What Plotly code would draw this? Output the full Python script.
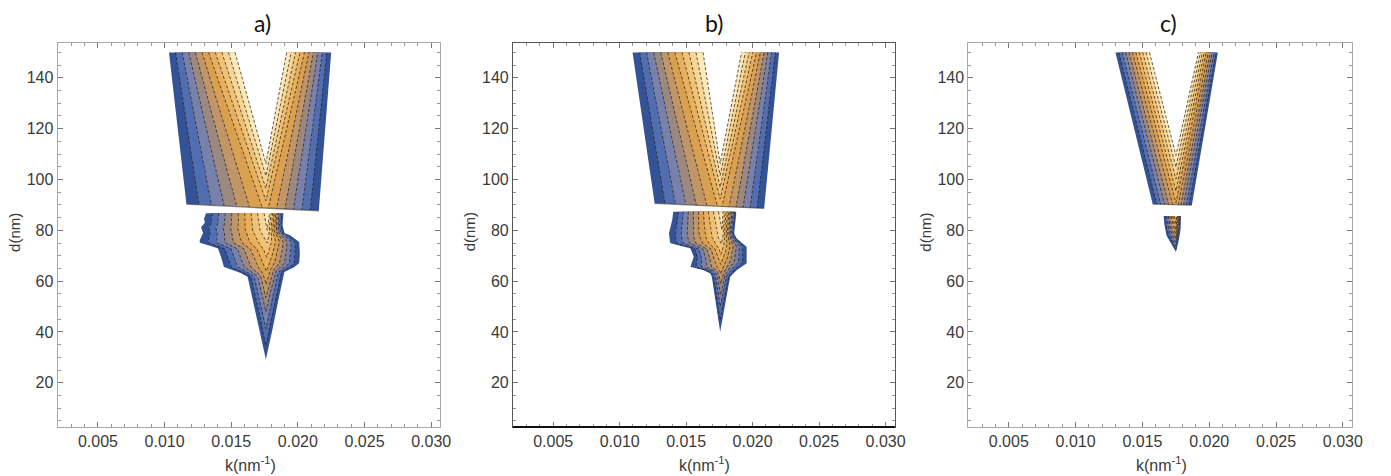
import numpy as np
import plotly.graph_objects as go

W, H = 1391, 476

panel_titles = ["a)", "b)", "c)"]

# colours of the 10 filled contour bands, outermost (lowest level) to innermost
band_colors = [
    "rgb(52,82,150)", "rgb(82,110,178)", "rgb(120,128,172)", "rgb(155,136,128)",
    "rgb(192,150,104)", "rgb(218,160,82)", "rgb(232,176,92)", "rgb(240,194,118)",
    "rgb(246,213,150)", "rgb(251,233,186)",
]

# ---------------- upper, V-shaped region (one value per panel) ----------------
v_top_d = [150.0, 150.0, 150.0]
v_out_left_top_k = [0.01033, 0.01097, 0.01298]
v_out_right_top_k = [0.02250, 0.02199, 0.02065]
v_out_left_bot_k = [0.01164, 0.01263, 0.01577]
v_out_left_bot_d = [90.3, 90.6, 90.3]
v_out_right_bot_k = [0.02157, 0.02087, 0.01870]
v_out_right_bot_d = [87.7, 88.6, 89.9]
v_in_left_top_k = [0.01529, 0.01627, 0.01553]
v_in_right_top_k = [0.01916, 0.01917, 0.01919]
v_tip_k = [0.01760, 0.01756, 0.01751]
v_tip_d = [106.3, 106.3, 109.5]
# highest level still reaching the bottom edge of the V on its centre line
v_bottom_level = [0.62, 0.62, 0.58]

# ---------------- lower region, panel a ----------------
a_low_left_d = [86.7, 84.5, 83.0, 81.2, 78.9, 77.5, 76.1, 75.1, 73.8, 72.9, 69.6, 65.6, 63.2, 61.7, 29.2]
a_low_left_k = [0.01311, 0.01296, 0.01302, 0.01274, 0.01289, 0.01276, 0.01264, 0.01264, 0.01348,
                0.01400, 0.01423, 0.01445, 0.01571, 0.01623, 0.01760]
a_low_right_d = [86.0, 82.0, 78.9, 78.0, 75.4, 71.0, 67.1, 65.5, 63.6, 53.9, 40.9, 29.2]
a_low_right_k = [0.01891, 0.01885, 0.01900, 0.01943, 0.02010, 0.02015, 0.02010, 0.01973, 0.01899,
                 0.01859, 0.01809, 0.01760]
a_ridge_d = [86.7, 80.0, 75.0, 66.0, 56.0, 50.0, 40.0, 29.2]
a_ridge_k = [0.0178, 0.0177, 0.0177, 0.01765, 0.0176, 0.0176, 0.0176, 0.0176]
a_ridge_level = [0.97, 0.90, 0.80, 0.64, 0.45, 0.33, 0.18, 0.02]

# ---------------- lower region, panel b ----------------
b_low_left_d = [87.3, 84.0, 81.4, 78.8, 75.5, 74.9, 72.9, 69.6, 65.6, 64.3, 63.0, 61.7, 40.1]
b_low_left_k = [0.01403, 0.01395, 0.01383, 0.01371, 0.01378, 0.01383, 0.01532, 0.01557, 0.01532,
                0.01632, 0.01682, 0.01693, 0.01756]
b_low_right_d = [86.0, 78.8, 76.8, 73.5, 67.0, 64.3, 61.7, 40.1]
b_low_right_k = [0.01876, 0.01861, 0.01880, 0.01955, 0.01955, 0.01880, 0.01831, 0.01756]
b_ridge_d = [87.3, 78.0, 69.6, 59.0, 50.0, 40.1]
b_ridge_k = [0.0177, 0.0177, 0.0176, 0.0176, 0.01756, 0.01756]
b_ridge_level = [0.97, 0.88, 0.68, 0.40, 0.20, 0.02]

# ---------------- lower region, panel c ----------------
c_low_left_d = [85.6, 82.0, 78.0, 75.0, 71.5]
c_low_left_k = [0.01659, 0.01665, 0.01680, 0.01712, 0.01751]
c_low_right_d = [85.4, 80.0, 76.0, 71.5]
c_low_right_k = [0.01788, 0.01785, 0.01772, 0.01751]
c_ridge_d = [85.6, 80.0, 76.0, 71.5]
c_ridge_k = [0.0175, 0.0175, 0.0175, 0.01751]
c_ridge_level = [0.80, 0.60, 0.35, 0.02]

low_left_d = [a_low_left_d, b_low_left_d, c_low_left_d]
low_left_k = [a_low_left_k, b_low_left_k, c_low_left_k]
low_right_d = [a_low_right_d, b_low_right_d, c_low_right_d]
low_right_k = [a_low_right_k, b_low_right_k, c_low_right_k]
ridge_d = [a_ridge_d, b_ridge_d, c_ridge_d]
ridge_k = [a_ridge_k, b_ridge_k, c_ridge_k]
ridge_level = [a_ridge_level, b_ridge_level, c_ridge_level]

x_ticks = [0.005, 0.010, 0.015, 0.020, 0.025, 0.030]
y_ticks = [20, 40, 60, 80, 100, 120, 140]
x_range = [0.00197, 0.0307]
y_range = [2.6, 153.7]

N = len(band_colors)
LINE_COLOR = "rgba(45,35,25,0.75)"


def line_through(k0, d0, k1, d1, d):
    return k0 + (k1 - k0) * (d - d0) / (d1 - d0)


def interp_desc(dq, d_list, k_list):
    dd = np.array(d_list)[::-1]
    kk = np.array(k_list)[::-1]
    return np.interp(dq, dd, kk)


def level_runs(d, L, R):
    f = R - L
    ok = f > 0
    runs = []
    i = 0
    n = len(d)
    while i < n:
        if ok[i]:
            j = i
            while j + 1 < n and ok[j + 1]:
                j += 1
            dl, Ll, Rl = list(d[i:j + 1]), list(L[i:j + 1]), list(R[i:j + 1])
            tip = False
            if i > 0:
                s = -f[i - 1] / (f[i] - f[i - 1])
                dc = d[i - 1] + s * (d[i] - d[i - 1])
                kc = L[i - 1] + s * (L[i] - L[i - 1])
                dl = [dc] + dl
                Ll = [kc] + Ll
                Rl = [kc] + Rl
                tip = True
            runs.append((np.array(dl), np.array(Ll), np.array(Rl), tip))
            i = j + 1
        else:
            i += 1
    return runs


def add_region(fig, d, level_fn, xa, ya, white_top):
    # fills, lowest level first
    for i in range(N):
        L, R = level_fn(i / N)
        xs, ys = [], []
        for dl, Ll, Rl, tip in level_runs(d, L, R):
            xs += list(Ll) + list(Rl[::-1]) + [None]
            ys += list(dl) + list(dl[::-1]) + [None]
        if xs:
            fig.add_trace(go.Scatter(x=xs, y=ys, fill="toself", fillcolor=band_colors[i],
                                     mode="none", hoverinfo="skip", showlegend=False,
                                     xaxis=xa, yaxis=ya))
    if white_top:
        L, R = level_fn(1.0)
        xs, ys = [], []
        for dl, Ll, Rl, tip in level_runs(d, L, R):
            dl2 = dl.copy()
            dl2[-1] += 0.8  # overshoot the flat top so no seam remains
            xs += list(Ll) + list(Rl[::-1]) + [None]
            ys += list(dl2) + list(dl2[::-1]) + [None]
        if xs:
            fig.add_trace(go.Scatter(x=xs, y=ys, fill="toself", fillcolor="white",
                                     mode="none", hoverinfo="skip", showlegend=False,
                                     xaxis=xa, yaxis=ya))
    # dashed contour lines
    xs, ys = [], []
    top = N + 1 if white_top else N
    for i in range(1, top):
        L, R = level_fn(i / N)
        for dl, Ll, Rl, tip in level_runs(d, L, R):
            if tip:
                xs += list(Ll[::-1]) + list(Rl[1:]) + [None]
                ys += list(dl[::-1]) + list(dl[1:]) + [None]
            else:
                xs += list(Ll[::-1]) + [None] + list(Rl) + [None]
                ys += list(dl[::-1]) + [None] + list(dl) + [None]
    fig.add_trace(go.Scatter(x=xs, y=ys, mode="lines",
                             line=dict(color=LINE_COLOR, width=1, dash="3px,2px"),
                             hoverinfo="skip", showlegend=False, xaxis=xa, yaxis=ya))


fig = go.Figure()

x_px = [(58, 444), (517, 902), (976, 1363)]
y_px = (43, 427)

for p in range(3):
    xa = "x" if p == 0 else f"x{p + 1}"
    ya = "y" if p == 0 else f"y{p + 1}"

    # ---- upper V region: every contour is made of straight legs ----
    dtop = v_top_d[p]
    dmin = min(v_out_left_bot_d[p], v_out_right_bot_d[p])
    d = np.linspace(dmin, dtop, 1800)
    kc, dtip, Mb = v_tip_k[p], v_tip_d[p], v_bottom_level[p]
    outL_bot = line_through(v_out_left_top_k[p], dtop, v_out_left_bot_k[p], v_out_left_bot_d[p], dmin)
    outR_bot = line_through(v_out_right_top_k[p], dtop, v_out_right_bot_k[p], v_out_right_bot_d[p], dmin)

    def v_level(t, p=p, d=d, kc=kc, dtip=dtip, Mb=Mb, dtop=dtop, dmin=dmin,
                outL_bot=outL_bot, outR_bot=outR_bot):
        topL = v_out_left_top_k[p] + (v_in_left_top_k[p] - v_out_left_top_k[p]) * t
        topR = v_out_right_top_k[p] + (v_in_right_top_k[p] - v_out_right_top_k[p]) * t
        if t < Mb:
            s = t / Mb
            botL = outL_bot + (kc - outL_bot) * s
            botR = outR_bot + (kc - outR_bot) * s
            L = line_through(topL, dtop, botL, dmin, d)
            R = line_through(topR, dtop, botR, dmin, d)
        else:
            td = dmin + (t - Mb) / (1 - Mb) * (dtip - dmin)
            if td <= dmin + 1e-6:
                td = dmin + 1e-3
            L = line_through(topL, dtop, kc, td, d)
            R = line_through(topR, dtop, kc, td, d)
        return L, R

    add_region(fig, d, v_level, xa, ya, True)

    # cut of the V bottom along its slanted lower edge
    kBL, dBL = v_out_left_bot_k[p], v_out_left_bot_d[p]
    kBR, dBR = v_out_right_bot_k[p], v_out_right_bot_d[p]
    lo = dmin - 0.5
    fig.add_trace(go.Scatter(
        x=[kBL - 0.002, kBL, kBR, kBR + 0.002, kBR + 0.002, kBL - 0.002],
        y=[dBL, dBL, dBR, dBR, lo, lo],
        fill="toself", fillcolor="white", mode="none", hoverinfo="skip",
        showlegend=False, xaxis=xa, yaxis=ya))
    fig.add_trace(go.Scatter(x=[kBL, kBR], y=[dBL, dBR], mode="lines",
                             line=dict(color="rgba(50,45,50,0.55)", width=1.3),
                             hoverinfo="skip", showlegend=False, xaxis=xa, yaxis=ya))

    # ---- lower region ----
    dlo = min(low_left_d[p][-1], low_right_d[p][-1])
    dhi = max(low_left_d[p][0], low_right_d[p][0])
    d2 = np.linspace(dlo, dhi, 1500)
    L0 = interp_desc(d2, low_left_d[p], low_left_k[p])
    R0 = interp_desc(d2, low_right_d[p], low_right_k[p])
    C = interp_desc(d2, ridge_d[p], ridge_k[p])
    m = np.maximum(interp_desc(d2, ridge_d[p], ridge_level[p]), 1e-3)
    L1 = L0 + (C - L0) / m
    R1 = R0 - (R0 - C) / m

    def low_level(t, L0=L0, L1=L1, R0=R0, R1=R1):
        return L0 + (L1 - L0) * t, R0 + (R1 - R0) * t

    add_region(fig, d2, low_level, xa, ya, False)

layout = dict(width=W, height=H, margin=dict(l=0, r=0, t=0, b=0), autosize=False,
              paper_bgcolor="white", plot_bgcolor="white", showlegend=False)

annotations = []
shapes = []
tick_font = dict(family="Liberation Sans, Arial, sans-serif", size=16, color="#3a3a3a")
for p in range(3):
    sfx = "" if p == 0 else str(p + 1)
    frame_col = "#555" if p == 1 else "#a8a8a8"
    x0, x1 = x_px[p]
    layout["xaxis" + sfx] = dict(
        domain=[x0 / W, x1 / W], range=x_range, anchor="y" + sfx,
        tickmode="array", tickvals=x_ticks, ticktext=[f"{v:.3f}" for v in x_ticks],
        ticks="inside", ticklen=5, tickcolor="#777", tickwidth=1,
        minor=dict(tickmode="linear", tick0=0, dtick=0.001, ticks="inside", ticklen=3, tickcolor="#999"),
        showline=True, linecolor=frame_col, linewidth=1, mirror="allticks",
        showgrid=False, zeroline=False, tickfont=tick_font, fixedrange=True)
    layout["yaxis" + sfx] = dict(
        domain=[1 - y_px[1] / H, 1 - y_px[0] / H], range=y_range, anchor="x" + sfx,
        tickmode="array", tickvals=y_ticks, ticktext=[str(v) for v in y_ticks],
        ticks="inside", ticklen=5, tickcolor="#777", tickwidth=1,
        minor=dict(tickmode="linear", tick0=0, dtick=5, ticks="inside", ticklen=3, tickcolor="#999"),
        showline=True, linecolor=frame_col, linewidth=1, mirror="allticks",
        showgrid=False, zeroline=False, tickfont=tick_font, fixedrange=True)

    cx = (x0 + x1) / 2
    annotations.append(dict(text=panel_titles[p], x=[265, 720, 1178][p] / W, y=1 - 23 / H,
                            xref="paper", yref="paper", showarrow=False, xanchor="center",
                            yanchor="middle", font=dict(family="Lato, sans-serif", size=23, color="#111")))
    annotations.append(dict(text="d(nm)", x=(x0 - 44) / W, y=1 - 232 / H, xref="paper", yref="paper",
                            showarrow=False, textangle=-90, xanchor="center", yanchor="middle",
                            font=dict(family="Liberation Sans, Arial, sans-serif", size=15, color="#3a3a3a")))
    annotations.append(dict(text="k(nm<sup>-1</sup>)", x=(cx + 1) / W, y=1 - 464 / H,
                            xref="paper", yref="paper", showarrow=False, xanchor="center",
                            yanchor="middle",
                            font=dict(family="Liberation Sans, Arial, sans-serif", size=16, color="#3a3a3a")))

# darker bottom frame line in panel b
shapes.append(dict(type="line", xref="x2 domain", yref="y2 domain", x0=0, x1=1, y0=0, y1=0,
                   line=dict(color="#111", width=2)))

layout["annotations"] = annotations
layout["shapes"] = shapes
fig.update_layout(**layout)
fig.write_html("out.html")
